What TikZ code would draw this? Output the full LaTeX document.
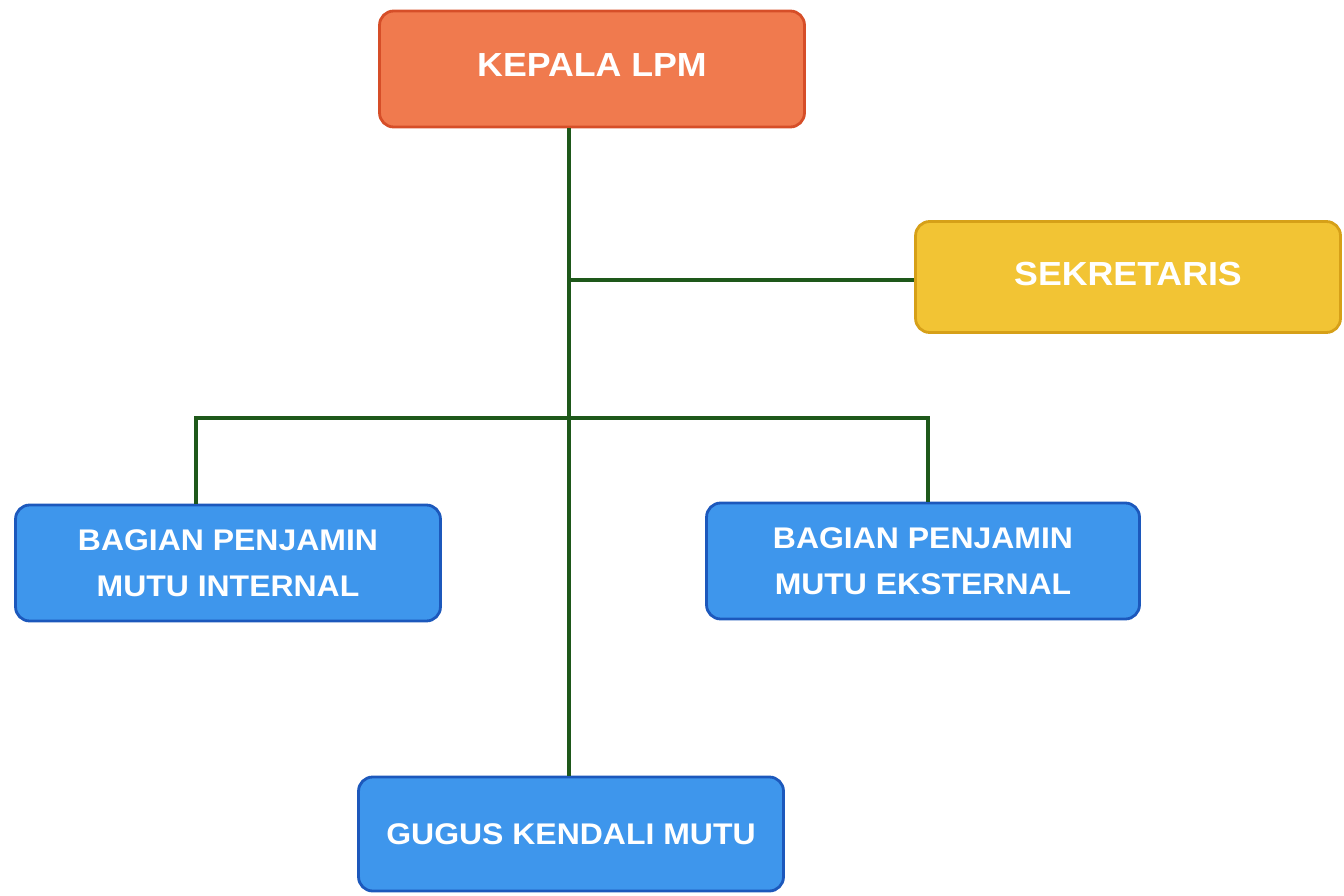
\documentclass[tikz,border=0pt]{standalone}
\usepackage{fontspec}
\setmainfont{Liberation Sans}[FakeStretch=1.07]
\usepackage{tikz}

\definecolor{kepalafill}{RGB}{240,122,78}
\definecolor{kepalaline}{RGB}{214,78,40}
\definecolor{sekfill}{RGB}{242,196,52}
\definecolor{sekline}{RGB}{214,160,24}
\definecolor{bagfill}{RGB}{62,150,236}
\definecolor{bagline}{RGB}{28,88,188}
\definecolor{linkgreen}{RGB}{30,88,26}

\begin{document}
\begin{tikzpicture}[x=0.02cm,y=-0.02cm,line width=1.6pt]
\tikzstyle{unit}=[rectangle,rounded corners=8pt,line width=1.6pt,minimum width=8.5cm,minimum height=2.32cm,
  text=white,font=\bfseries\fontsize{17}{26.5}\selectfont,align=center]
\tikzstyle{head}=[unit,font=\bfseries\fontsize{19}{26}\selectfont]
\tikzstyle{link}=[draw=linkgreen,line width=1.8pt]

\useasboundingbox (0,0) rectangle (1344,895);

\node[head,fill=kepalafill,draw=kepalaline] (kepala) at (592,69) {\raisebox{4.5pt}{KEPALA LPM}};
\node[head,fill=sekfill,draw=sekline,minimum height=2.22cm] (sek) at (1128,277) {\raisebox{4pt}{SEKRETARIS}};
\node[unit,fill=bagfill,draw=bagline] (int) at (228,563) {BAGIAN PENJAMIN\\MUTU INTERNAL};
\node[unit,fill=bagfill,draw=bagline,minimum width=8.66cm] (eks) at (923,561) {BAGIAN PENJAMIN\\MUTU EKSTERNAL};
\node[unit,fill=bagfill,draw=bagline,minimum height=2.28cm] (gugus) at (571,834) {GUGUS KENDALI MUTU};

\coordinate (j1) at (569,280);
\coordinate (bl) at (196,418);
\coordinate (br) at (928,418);

\path[link]
(kepala.south -| j1) edge (gugus.north -| j1)
(j1) edge (j1 -| sek.west);
\draw[link] (bl |- int.north) -- (bl) -- (br) -- (br |- eks.north);

\end{tikzpicture}
\end{document}
